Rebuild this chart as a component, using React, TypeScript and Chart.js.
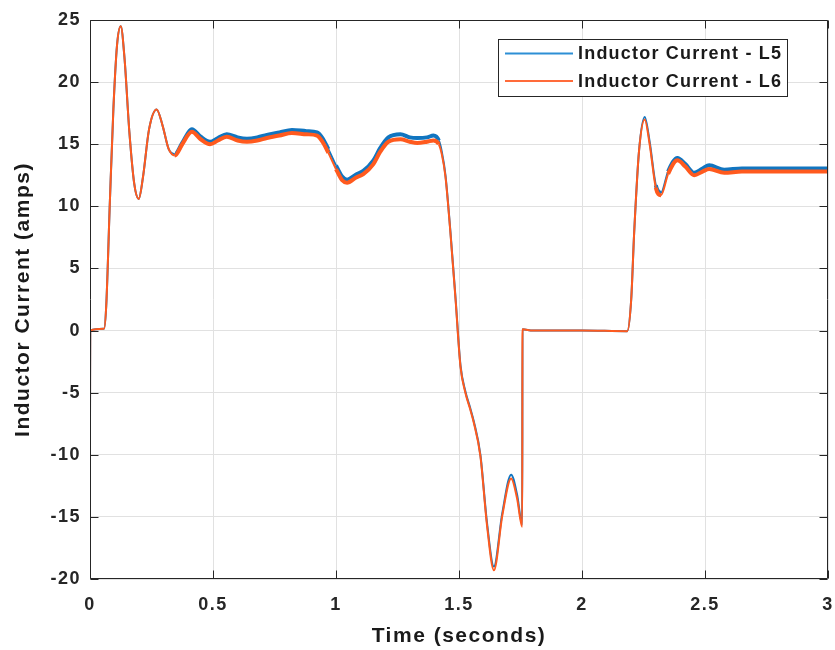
import React, { useEffect, useRef } from 'react';
import { Chart, registerables } from 'chart.js';

Chart.register(...registerables);

// Time axis (seconds)
const timeS = [
  0, 0.001, 0.057, 0.066, 0.081, 0.095, 0.11, 0.125, 0.14, 0.16, 0.18, 0.198, 0.215, 0.24, 0.271, 0.295,
  0.32, 0.345, 0.375, 0.414, 0.45, 0.488, 0.52, 0.556, 0.6, 0.638, 0.68, 0.719, 0.77, 0.821, 0.88, 0.923,
  0.945, 0.969, 1.0, 1.025, 1.045, 1.08, 1.111, 1.152, 1.18, 1.213, 1.262, 1.3, 1.33, 1.37, 1.396, 1.418,
  1.43, 1.445, 1.465, 1.486, 1.506, 1.526, 1.545, 1.56, 1.587, 1.614, 1.642, 1.676, 1.712, 1.736, 1.757,
  1.758, 1.8, 2.0, 2.184, 2.2, 2.212, 2.232, 2.255, 2.275, 2.3, 2.321, 2.35, 2.388, 2.42, 2.456, 2.49,
  2.517, 2.578, 2.65, 2.8, 3.0,
];

// Inductor current L5 (amps)
const currentL5 = [
  -7.0, 0.0, 0.15, 2.0, 10.5, 17.8, 23.0, 24.5, 22.0, 16.0, 11.8, 10.6, 12.3, 16.2, 17.8, 16.5,
  14.6, 14.2, 15.1, 16.2, 15.6, 15.2, 15.5, 15.8, 15.55, 15.45, 15.55, 15.75, 15.95, 16.15, 16.05, 15.95,
  15.5, 14.6, 13.3, 12.4, 12.15, 12.55, 12.85, 13.7, 14.7, 15.55, 15.8, 15.55, 15.5, 15.55, 15.7, 15.3,
  14.4, 12.5, 8.0, 2.6, -2.8, -4.9, -6.2, -7.3, -10.0, -15.5, -19.0, -14.7, -11.6, -13.2, -15.6,
  0.1, 0.0, 0.0, -0.05, 2.5, 7.85, 14.5, 17.2, 15.2, 11.7, 11.1, 12.8, 13.9, 13.4, 12.7, 13.05,
  13.3, 12.95, 13.05, 13.05, 13.05,
];

// Inductor current L6 (amps)
const currentL6 = [
  -7.0, 0.0, 0.15, 2.0, 10.5, 17.8, 23.0, 24.5, 22.0, 16.0, 11.8, 10.6, 12.3, 16.2, 17.8, 16.5,
  14.6, 14.1, 15.0, 16.0, 15.4, 15.0, 15.3, 15.6, 15.3, 15.2, 15.3, 15.5, 15.7, 15.9, 15.8, 15.7,
  15.2, 14.3, 13.0, 12.1, 11.9, 12.3, 12.6, 13.4, 14.4, 15.2, 15.4, 15.2, 15.1, 15.2, 15.3, 15.0,
  14.2, 12.4, 7.9, 2.5, -2.9, -5.0, -6.3, -7.4, -10.1, -15.7, -19.3, -14.9, -11.9, -13.5, -15.8,
  0.1, 0.0, 0.0, -0.05, 2.5, 7.85, 14.5, 17.0, 15.0, 11.5, 10.9, 12.6, 13.7, 13.2, 12.5, 12.8,
  13.0, 12.7, 12.8, 12.8, 12.8,
];

const xTickValues = [0, 0.5, 1, 1.5, 2, 2.5, 3];
const xTickLabels = ['0', '0.5', '1', '1.5', '2', '2.5', '3'];
const yTickValues = [-20, -15, -10, -5, 0, 5, 10, 15, 20, 25];
const yTickLabels = ['-20', '-15', '-10', '-5', '0', '5', '10', '15', '20', '25'];

const seriesLabels = ['Inductor Current - L5', 'Inductor Current - L6'];
const seriesColors = ['#1175C0', '#FF5A1E'];
const legendColors = ['#2D8FD5', '#FF6B3A'];

const FONT = '"Liberation Sans", Arial, Helvetica, sans-serif';
const AXIS_COLOR = '#262626';

export default function App() {
  const ref = useRef<HTMLCanvasElement>(null);

  useEffect(() => {
    document.body.style.margin = '0';
    const canvas = ref.current;
    if (!canvas) return;

    const boxPlugin = {
      id: 'matlabBox',
      beforeUpdate(chart: any) {
        chart.ctx.letterSpacing = '1.5px';
      },
      beforeDraw(chart: any) {
        const ctx = chart.ctx;
        ctx.save();
        ctx.fillStyle = '#ffffff';
        ctx.fillRect(0, 0, chart.width, chart.height);
        ctx.restore();
        ctx.letterSpacing = '1.5px';
      },
      afterDatasetsDraw(chart: any) {
        const ctx = chart.ctx;
        const { left, right, top, bottom } = chart.chartArea;
        const xs = chart.scales.x;
        const ys = chart.scales.y;
        const L = Math.round(left) + 0.5;
        const R = Math.round(right) - 0.5;
        const T = Math.round(top) + 0.5;
        const B = Math.round(bottom) - 0.5;
        const tl = 8;
        ctx.save();
        ctx.strokeStyle = AXIS_COLOR;
        ctx.lineWidth = 1;
        ctx.beginPath();
        ctx.rect(L, T, R - L, B - T);
        for (const v of xTickValues) {
          const px = Math.round(xs.getPixelForValue(v)) + 0.5;
          ctx.moveTo(px, B);
          ctx.lineTo(px, B - tl);
          ctx.moveTo(px, T);
          ctx.lineTo(px, T + tl);
        }
        for (const v of yTickValues) {
          const py = Math.round(ys.getPixelForValue(v)) + 0.5;
          ctx.moveTo(L, py);
          ctx.lineTo(L + tl, py);
          ctx.moveTo(R, py);
          ctx.lineTo(R - tl, py);
        }
        ctx.stroke();
        ctx.restore();
      },
      afterDraw(chart: any) {
        const ctx = chart.ctx;
        const bx = 498.5;
        const by = 39.5;
        const bw = 289;
        const bh = 57;
        ctx.save();
        ctx.fillStyle = '#ffffff';
        ctx.fillRect(bx, by, bw, bh);
        ctx.strokeStyle = AXIS_COLOR;
        ctx.lineWidth = 1;
        ctx.strokeRect(bx, by, bw, bh);
        ctx.letterSpacing = '1.2px';
        ctx.font = `bold 18px ${FONT}`;
        ctx.textAlign = 'left';
        ctx.textBaseline = 'middle';
        const rows = [53.5, 81];
        chart.data.datasets.forEach((ds: any, i: number) => {
          const y = rows[i];
          ctx.strokeStyle = legendColors[i];
          ctx.lineWidth = 2;
          ctx.beginPath();
          ctx.moveTo(505, y);
          ctx.lineTo(573, y);
          ctx.stroke();
          ctx.fillStyle = '#1a1a1a';
          ctx.fillText(ds.label, 578, y + 1);
        });
        ctx.restore();
      },
    };

    const thickSegment = (c: any) => {
      const x0 = c.p0.parsed.x;
      const y0 = c.p0.parsed.y;
      const x1 = c.p1.parsed.x;
      const y1 = c.p1.parsed.y;
      const slope = Math.abs((y1 - y0) / Math.max(x1 - x0, 1e-6));
      if (slope < 40 && Math.abs(y0) > 5 && x0 > 0.33) return 4;
      return 2;
    };

    const makeData = (vals: number[]) => timeS.map((t, i) => ({ x: t, y: vals[i] }));

    const chart = new Chart(canvas, {
      type: 'line',
      data: {
        datasets: [
          {
            label: seriesLabels[0],
            data: makeData(currentL5),
            borderColor: seriesColors[0],
            backgroundColor: seriesColors[0],
            borderWidth: 2,
            pointRadius: 0,
            cubicInterpolationMode: 'monotone',
            order: 1,
            segment: { borderWidth: thickSegment },
          },
          {
            label: seriesLabels[1],
            data: makeData(currentL6),
            borderColor: seriesColors[1],
            backgroundColor: seriesColors[1],
            borderWidth: 2,
            pointRadius: 0,
            cubicInterpolationMode: 'monotone',
            order: 0,
            segment: { borderWidth: thickSegment },
          },
        ],
      },
      options: {
        responsive: false,
        animation: false,
        events: [],
        layout: { padding: { left: 0, right: 7, top: 20, bottom: 0 } },
        plugins: {
          legend: { display: false },
          tooltip: { enabled: false },
          title: { display: false },
        },
        scales: {
          x: {
            type: 'linear',
            min: 0,
            max: 3,
            afterBuildTicks: (s: any) => {
              s.ticks = xTickValues.map((v) => ({ value: v }));
            },
            afterFit: (s: any) => {
              s.height = 71;
              s.paddingLeft = 0;
              s.paddingRight = 0;
            },
            ticks: {
              callback: (v: any) => {
                const i = xTickValues.indexOf(Number(v));
                return i >= 0 ? xTickLabels[i] : '';
              },
              font: { family: FONT, size: 18, weight: 'bold' },
              color: AXIS_COLOR,
              padding: 15,
              maxRotation: 0,
              autoSkip: false,
            },
            grid: { color: '#e1e1e1', drawTicks: false, lineWidth: 1 },
            border: { display: false },
            title: {
              display: true,
              text: 'Time (seconds)',
              font: { family: FONT, size: 21, weight: 'bold' },
              color: '#1a1a1a',
              padding: { top: 0, bottom: 1 },
            },
          },
          y: {
            type: 'linear',
            min: -20,
            max: 25,
            afterBuildTicks: (s: any) => {
              s.ticks = yTickValues.map((v) => ({ value: v }));
            },
            afterFit: (s: any) => {
              s.width = 90;
              s.paddingTop = 0;
              s.paddingBottom = 0;
            },
            ticks: {
              callback: (v: any) => {
                const i = yTickValues.indexOf(Number(v));
                return i >= 0 ? yTickLabels[i] : '';
              },
              font: { family: FONT, size: 18, weight: 'bold' },
              color: AXIS_COLOR,
              padding: 9,
              autoSkip: false,
            },
            grid: { color: '#e1e1e1', drawTicks: false, lineWidth: 1 },
            border: { display: false },
            title: {
              display: true,
              text: 'Inductor Current (amps)',
              font: { family: FONT, size: 21, weight: 'bold' },
              color: '#1a1a1a',
              padding: { top: 11, bottom: 0 },
            },
          },
        },
      },
      plugins: [boxPlugin],
    } as any);

    return () => {
      chart.destroy();
    };
  }, []);

  return <canvas ref={ref} width={835} height={650} style={{ display: 'block' }} />;
}
